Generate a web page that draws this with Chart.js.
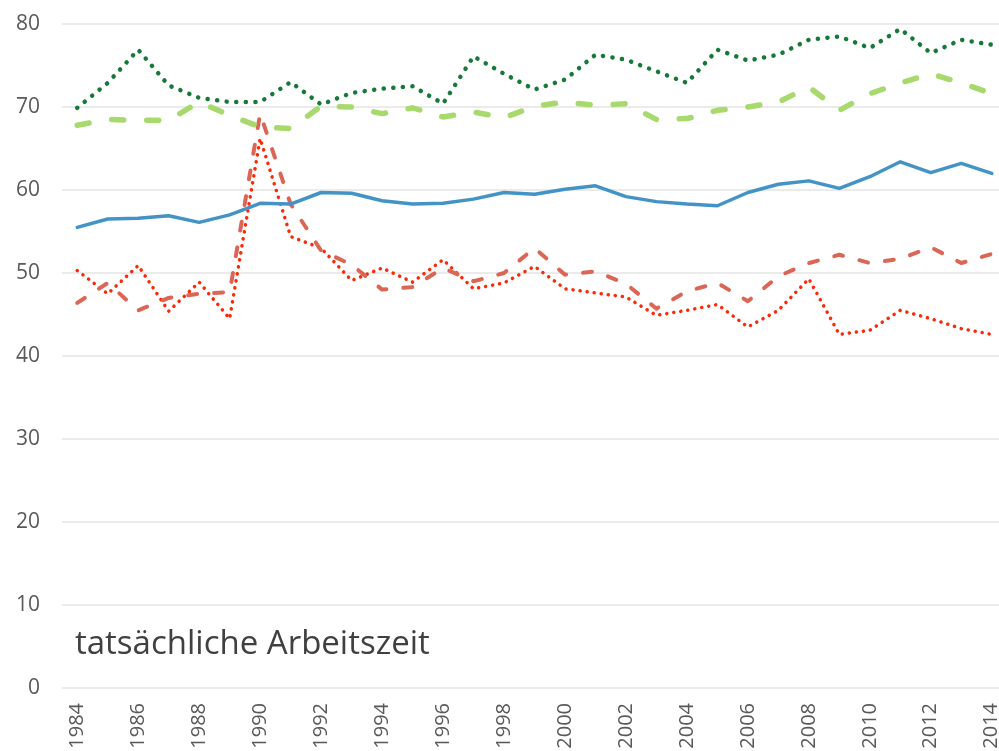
<!DOCTYPE html>
<html lang="de">
<head>
<meta charset="utf-8">
<title>tatsächliche Arbeitszeit</title>
<script src="https://cdn.jsdelivr.net/npm/chart.js@4/dist/chart.umd.min.js"></script>
<style>
    html, body { margin: 0; padding: 0; background: #fff; overflow: hidden; }
    #wrap { position: relative; width: 1007px; height: 751px; }
    #titel {
        position: absolute; left: 75px; top: 619px;
        font-family: 'Open Sans', sans-serif; font-size: 33px;
        color: #404040; white-space: nowrap;
    }
</style>
</head>
<body>
<div id="wrap">
    <canvas id="chart"></canvas>
    <div id="titel">tatsächliche Arbeitszeit</div>
</div>
<script>
const jahre = [];
for (let j = 1984; j <= 2014; j++) jahre.push(String(j));

// Werte
const reiheGruenPunkt = [69.9, 72.9, 76.9, 72.6, 71.1, 70.6, 70.6, 73.0, 70.3, 71.7, 72.2, 72.5, 70.4, 76.1, 74.0, 72.1,
    73.3, 76.3, 75.7, 74.3, 72.9, 76.9, 75.6, 76.3, 78.1, 78.5, 77.1, 79.4, 76.5, 78.1, 77.5];
const reiheHellgruenStrich = [67.8, 68.5, 68.4, 68.4, 70.6, 69.0, 67.6, 67.4, 70.1, 70.0, 69.2, 69.9, 68.8, 69.4, 68.7, 70.1,
    70.6, 70.2, 70.4, 68.5, 68.6, 69.6, 70.0, 70.6, 72.4, 69.6, 71.6, 72.9, 74.0, 72.9, 71.6];
const reiheBlau = [55.5, 56.5, 56.6, 56.9, 56.1, 57.0, 58.4, 58.3, 59.7, 59.6, 58.7, 58.3, 58.4, 58.9, 59.7, 59.5,
    60.1, 60.5, 59.2, 58.6, 58.3, 58.1, 59.7, 60.7, 61.1, 60.2, 61.6, 63.4, 62.1, 63.2, 62.0];
const reiheRotStrich = [46.4, 48.8, 45.5, 47.0, 47.5, 47.7, 69.2, 58.3, 52.7, 51.0, 48.0, 48.3, 50.6, 49.0, 50.0, 53.0,
    49.8, 50.2, 48.7, 45.7, 47.8, 48.8, 46.6, 49.6, 51.2, 52.2, 51.2, 51.7, 53.1, 51.2, 52.3];
const reiheRotPunkt = [50.3, 47.5, 50.9, 45.4, 48.9, 44.5, 66.2, 54.4, 53.0, 49.1, 50.6, 48.9, 51.6, 48.1, 48.8, 50.8,
    48.1, 47.6, 47.1, 44.9, 45.5, 46.2, 43.5, 45.5, 49.3, 42.6, 43.1, 45.5, 44.5, 43.3, 42.6];

const yTicks = [0, 10, 20, 30, 40, 50, 60, 70, 80];

const schrift = "'Open Sans', sans-serif";

function linie(label, daten, farbe, breite, strich) {
    return {
        label: label,
        data: daten,
        borderColor: farbe,
        backgroundColor: farbe,
        borderWidth: breite,
        borderDash: strich,
        borderCapStyle: 'round',
        borderJoinStyle: 'round',
        pointRadius: 0,
        tension: 0,
        fill: false
    };
}

const ctx = document.getElementById('chart').getContext('2d');

new Chart(ctx, {
    type: 'line',
    data: {
        labels: jahre,
        datasets: [
            linie('Reihe 1', reiheBlau, '#4493c6', 3.5, []),
            linie('Reihe 2', reiheHellgruenStrich, '#a8d96c', 5.5, [12, 23]),
            linie('Reihe 3', reiheGruenPunkt, '#17783a', 4.5, [0.1, 9.5]),
            linie('Reihe 4', reiheRotStrich, '#db6656', 4, [9, 17]),
            linie('Reihe 5', reiheRotPunkt, '#fa2a08', 3.5, [0.1, 7])
        ]
    },
    options: {
        responsive: true,
        maintainAspectRatio: false,
        animation: false,
        layout: { padding: { top: 24, right: 0, bottom: 0, left: 0 } },
        plugins: {
            legend: { display: false },
            tooltip: { enabled: false }
        },
        scales: {
            x: {
                offset: true,
                grid: { display: false, drawTicks: false },
                border: { display: false },
                ticks: {
                    autoSkip: false,
                    minRotation: 90,
                    maxRotation: 90,
                    padding: 15,
                    color: '#595959',
                    font: { family: schrift, size: 20 },
                    callback: function (value, index) {
                        return index % 2 === 0 ? this.getLabelForValue(value) : '';
                    }
                },
                afterFit: function (scale) {
                    scale.height = 63;
                    scale.paddingLeft = 0;
                    scale.paddingRight = 0;
                }
            },
            y: {
                min: 0,
                max: 80,
                afterBuildTicks: function (scale) {
                    scale.ticks = yTicks.map(v => ({ value: v }));
                },
                grid: { color: '#ebebeb', lineWidth: 2, drawTicks: false },
                border: { display: false },
                ticks: {
                    padding: 22,
                    color: '#595959',
                    font: { family: schrift, size: 21 }
                },
                afterFit: function (scale) {
                    scale.width = 62;
                    scale.paddingTop = 0;
                    scale.paddingBottom = 0;
                }
            }
        }
    }
});
</script>
</body>
</html>
